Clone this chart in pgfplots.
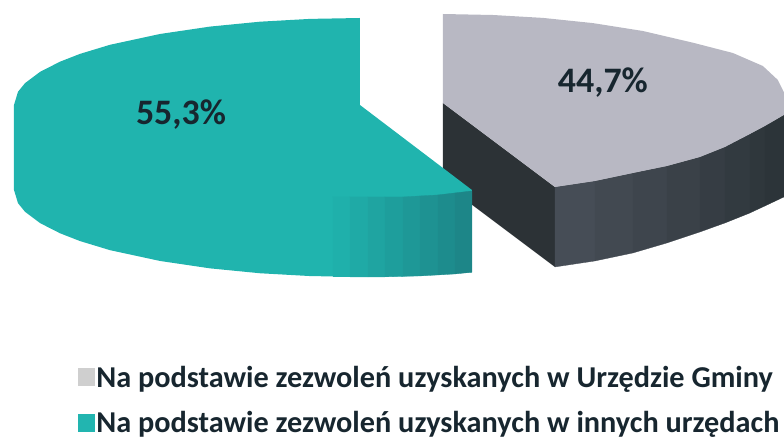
\documentclass[border=0pt]{standalone}
\usepackage{pgfplots}
\pgfplotsset{compat=1.18}
\usepackage{fontspec}
\setmainfont{Carlito}
\definecolor{teal1}{HTML}{20B4AE}
\definecolor{greytop}{HTML}{B8B8C3}
\definecolor{lgrey}{HTML}{CFCFCF}
\definecolor{lteal}{HTML}{22B5B0}
\definecolor{txt}{HTML}{17262F}
\definecolor{darkflat}{HTML}{2C3236}
\pgfplotsset{strip/.style={fill={#1}, draw={#1}, line width=0.3pt, forget plot}}
\begin{document}
\begin{tikzpicture}
\begin{axis}[
  scale only axis, width=784bp, height=439bp,
  xmin=0, xmax=784, ymin=0, ymax=439, y dir=reverse,
  hide axis, clip=false,
  legend style={at={(axis cs:78,364)}, anchor=north west, draw=none, fill=none,
    inner sep=0pt, outer sep=0pt, row sep=19bp, font=\fontsize{30.4}{32}\selectfont\bfseries,
    text=txt,
    /tikz/every even column/.append style={column sep=5bp}},
  legend cell align=left,
]
% invisible frame
\addplot[draw=none, forget plot] coordinates {(0,0) (784,439)};
% grey wedge: dark straight side
\addplot[fill=darkflat, draw=none, forget plot] coordinates {(443,103) (555,187) (555,267) (443,183)};
% grey wedge: curved side, strips
\addplot[strip={rgb,255:red,70;green,77;blue,86}] coordinates {(555,187) (595,181) (595,261) (555,267)};
\addplot[strip={rgb,255:red,66;green,73;blue,81}] coordinates {(595,181) (633,173) (633,253) (595,261)};
\addplot[strip={rgb,255:red,62;green,69;blue,77}] coordinates {(633,173) (667,166) (667,243) (633,253)};
\addplot[strip={rgb,255:red,58;green,65;blue,72}] coordinates {(667,166) (700,157) (700,232) (667,243)};
\addplot[strip={rgb,255:red,54;green,61;blue,68}] coordinates {(700,157) (725,147) (725,223) (700,232)};
\addplot[strip={rgb,255:red,50;green,58;blue,64}] coordinates {(725,147) (750,134) (750,213) (725,223)};
\addplot[strip={rgb,255:red,47;green,55;blue,60}] coordinates {(750,134) (765,126) (765,206) (750,213)};
\addplot[strip={rgb,255:red,44;green,52;blue,57}] coordinates {(765,126) (784,115) (784,197) (765,206)};
% grey top face
\addplot[fill=greytop, draw=none, forget plot] coordinates {(443,14) (493,15) (543,17.9) (593,23.1) (643,31) (693,42.7) (733,53) (763,66) (778,80) (784,92) (784,115) (765,126) (750,134) (725,147) (700,157) (667,166) (633,173) (595,181) (555,187) (443,103)};
% teal wedge
\addplot[fill=teal1, draw=none, forget plot] coordinates {(360,18) (310,18.9) (260,21.7) (210,26.6) (160,34) (110,44.8) (80,53.9) (60,61.7) (40,71.9) (25,83.2) (18,91.8) (14,105) (14,190) (18,203.2) (25,211.8) (40,223.1) (60,233.3) (80,241.1) (110,250.2) (160,261) (210,268.4) (260,273.3) (310,276.1) (360,277) (405,276.3) (440,274.6) (472,272.3) (472,190) (360,105)};
% teal curved side shading, strips
\addplot[strip={rgb,255:red,31;green,176;blue,171}] coordinates {(333,197) (350,197) (350,276.9) (333,276.8)};
\addplot[strip={rgb,255:red,31;green,170;blue,166}] coordinates {(350,197) (368,197) (368,277) (350,276.9)};
\addplot[strip={rgb,255:red,31;green,164;blue,161}] coordinates {(368,197) (385,197) (385,276.9) (368,277)};
\addplot[strip={rgb,255:red,30;green,158;blue,156}] coordinates {(385,197) (403,197) (403,276.4) (385,276.9)};
\addplot[strip={rgb,255:red,30;green,152;blue,151}] coordinates {(403,197) (420,196) (420,276) (403,276.4)};
\addplot[strip={rgb,255:red,30;green,146;blue,146}] coordinates {(420,196) (438,195) (438,275) (420,276)};
\addplot[strip={rgb,255:red,29;green,140;blue,141}] coordinates {(438,195) (455,193) (455,274) (438,275)};
\addplot[strip={rgb,255:red,29;green,134;blue,136}] coordinates {(455,193) (472,191) (472,272.3) (455,274)};
% legend
\addlegendimage{legend image code/.code={\fill[lgrey] (0bp,-8bp) rectangle (16bp,9bp);}}
\addlegendentry{Na podstawie zezwoleń uzyskanych w Urzędzie Gminy}
\addlegendimage{legend image code/.code={\fill[lteal] (0bp,-8bp) rectangle (16bp,9bp);}}
\addlegendentry{Na podstawie zezwoleń uzyskanych w innych urzędach}
% labels
\node[font=\fontsize{36}{38}\selectfont\bfseries, text=txt] at (axis cs:181,115) {55,3\%};
\node[font=\fontsize{36}{38}\selectfont\bfseries, text=txt] at (axis cs:603,83) {44,7\%};
\end{axis}
\end{tikzpicture}
\end{document}
